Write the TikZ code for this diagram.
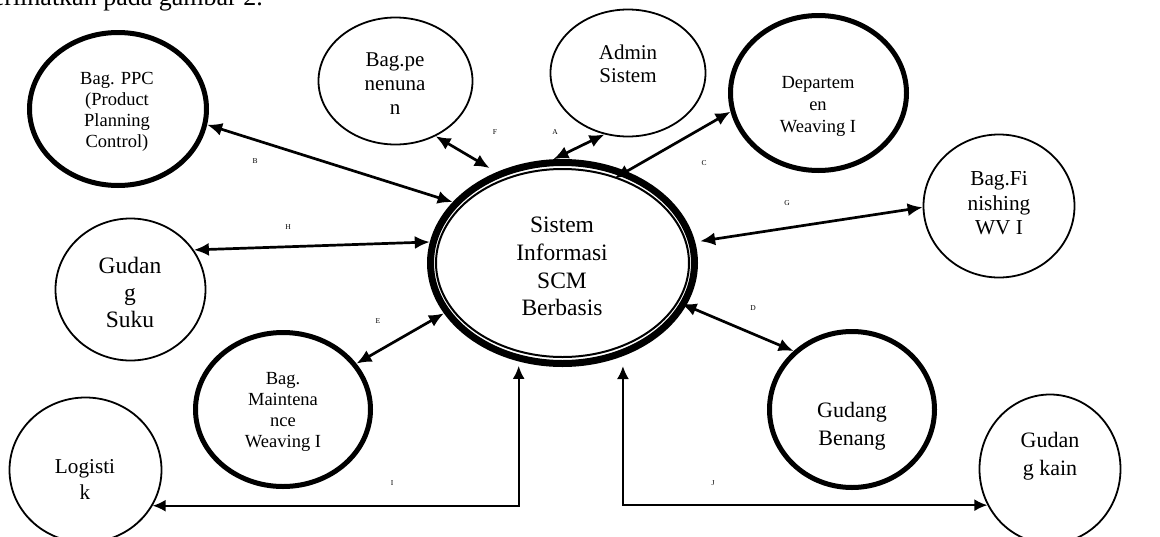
\documentclass[tikz,border=0pt]{standalone}
\usepackage{fontspec}
\setmainfont{Liberation Serif}
\usetikzlibrary{shapes.geometric,arrows.meta}
\begin{document}
\begin{tikzpicture}[x=1pt,y=-1pt,
  ent/.style={ellipse, draw, line width=1.8pt, inner sep=0pt},
  entb/.style={ellipse, draw, line width=5pt, inner sep=0pt},
  tip/.style={Latex[length=15pt,width=13pt]},
  flow/.style={line width=2.7pt, {Latex[length=15pt,width=13pt]}-{Latex[length=15pt,width=13pt]}},
  flowthin/.style={line width=2pt, {Latex[length=13pt,width=12pt]}-{Latex[length=13pt,width=12pt]}},
  lbl/.style={font=\fontsize{7.5}{9}\selectfont, inner sep=0pt},
  txt/.style={align=center, inner sep=0pt}
]
\useasboundingbox (0,0) rectangle (1160,536);
\fill[white] (0,0) rectangle (1160,536);

% caption fragment (cut off at top)
\node[anchor=base east, font=\fontsize{26}{30}\selectfont, inner sep=0pt] (cap) at (263,5) {diperlihatkan pada gambar 2.};

% entities
\node[entb, minimum width=177pt, minimum height=153pt] (ppc) at (118,109) {};
\node[ent, minimum width=154pt, minimum height=127pt] (pen) at (395.5,81) {};
\node[ent, minimum width=155pt, minimum height=127pt] (adm) at (628,73) {};
\node[entb, minimum width=176pt, minimum height=155pt] (dep) at (818.5,93) {};
\node[ent, minimum width=151pt, minimum height=143pt] (fin) at (999,206) {};
\node[ent, minimum width=150pt, minimum height=142pt] (suku) at (130.5,289.5) {};
\node[entb, minimum width=175pt, minimum height=154pt] (mnt) at (283,409.5) {};
\node[ent, minimum width=152pt, minimum height=145pt] (log) at (85.5,470) {};
\node[entb, minimum width=165pt, minimum height=156pt] (ben) at (852,409.5) {};
\node[ent, minimum width=141pt, minimum height=149pt] (kain) at (1050,469) {};
\node[ellipse, draw, line width=7pt, inner sep=0pt, minimum width=264pt, minimum height=201pt] (sis) at (562.5,263) {};
\node[ellipse, draw, line width=2pt, inner sep=0pt, minimum width=253pt, minimum height=188pt] (sisin) at (562.5,263) {};

% texts
\node[txt, font=\fontsize{18.5}{21}\selectfont] (ppct) at (117,111.8) {Bag. PPC\\(Product\\Planning\\Control)};
\node[txt, font=\fontsize{21}{24}\selectfont] (pent) at (395,84) {Bag.pe\\nenuna\\n};
\node[txt, font=\fontsize{21}{23}\selectfont] (admt) at (628,64.3) {Admin\\Sistem};
\node[txt, font=\fontsize{18.5}{22}\selectfont] (dept) at (818,106.7) {Departem\\en\\Weaving I};
\node[txt, font=\fontsize{21.3}{24.5}\selectfont] (fint) at (999,203.2) {Bag.Fi\\nishing\\WV I};
\node[txt, font=\fontsize{23.5}{27}\selectfont] (sukut) at (130,292) {Gudan\\g\\Suku};
\node[txt, font=\fontsize{18.5}{21}\selectfont] (mntt) at (283,412.4) {Bag.\\Maintena\\nce\\Weaving I};
\node[txt, font=\fontsize{21.2}{26}\selectfont] (logt) at (85,479.8) {Logisti\\k};
\node[txt, font=\fontsize{22}{28}\selectfont] (bent) at (852,425.9) {Gudang\\Benang};
\node[txt, font=\fontsize{22}{28}\selectfont] (kaint) at (1050,456.5) {Gudan\\g kain};
\node[txt, font=\fontsize{23.5}{27.7}\selectfont] (sist) at (562,266.5) {Sistem\\Informasi\\SCM\\Berbasis};

% flows
\draw[flow] (ppc.-10.6) -- (sis.151.9);
\draw[flow, shorten >=8pt] (pen.-54.3) -- (sis.126);
\draw[flow] (adm.249.6) -- (sis.95.2);
\draw[flow, shorten <=-14pt] (sis.55.3) -- (dep.192.6);
\draw[flow, shorten <=5pt] (sis.9.5) -- (fin.181.5);
\draw[flow] (suku.32) -- (sis.171);
\draw[flow] (mnt.32.3) -- (sis.203.3);
\draw[flow, shorten <=-5pt] (sis.-19.7) -- (ben.135.2);
\draw[flowthin, shorten >=4.5pt] (log.-28.4) -- (log.-28.4 -| sis.246.5) -- (sis.246.5);
\draw[flowthin, shorten <=10pt] (sis.-57) -- (sis.-57 |- kain.210.4) -- (kain.210.4);

% flow labels
\node[lbl] (la) at (555,132) {A};
\node[lbl] (lb) at (255,161) {B};
\node[lbl] (lc) at (704,163) {C};
\node[lbl] (ld) at (753,308) {D};
\node[lbl] (le) at (378,321) {E};
\node[lbl] (lf) at (495,132) {F};
\node[lbl] (lg) at (787,203) {G};
\node[lbl] (lh) at (288,227) {H};
\node[lbl] (li) at (392,483) {I};
\node[lbl] (lj) at (713,483) {J};
\end{tikzpicture}
\end{document}
